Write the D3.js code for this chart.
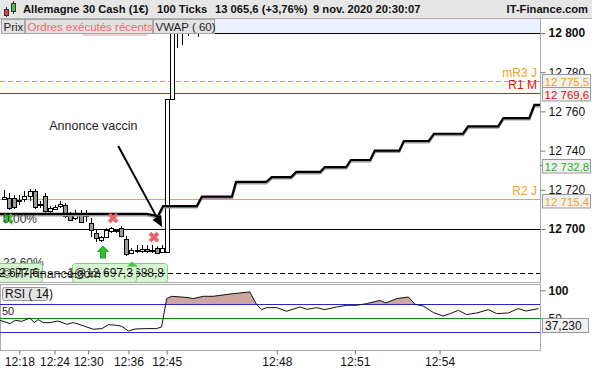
<!DOCTYPE html>
<html><head><meta charset="utf-8">
<script src="https://cdn.jsdelivr.net/npm/d3@7/dist/d3.min.js"></script>
<style>
body{margin:0;background:#fff;}
svg{display:block;font-family:"Liberation Sans",Arial,Helvetica,sans-serif;}
</style></head><body>
<svg id="chart" width="592" height="370"></svg>
<script>
// ---------------- data ----------------
const priceTicks = [12700, 12720, 12740, 12760, 12780, 12800];
const boldPriceTicks = [12700, 12800];
const timeLabels = ["12:18", "12:24", "12:30", "12:36", "12:45", "12:48", "12:51", "12:54"];
const timeIdx = [3, 9.9, 16.5, 24.4, 31.9, 53.5, 68.8, 85.4];

// 100-tick candles (bar index = position)
const candleOpen  = [12715.3,12715.8,12715.8,12714.8,12715.7,12716.8,12719.4,12712.8,12717.0,12709.2,12710.2,12711.7,12712.2,12707.7,12705.6,12707.7,12707.1,12703.1,12698.0,12694.4,12695.9,12699.0,12699.0,12700.5,12694.9,12687.8,12689.3,12688.8,12689.8,12689.3,12690.3,12688.3,12688.3,12766.3,12808.0,12812.0,12814.0,12818.0,12819.0];
const candleHigh  = [12719.9,12718.4,12717.3,12717.3,12719.4,12720.4,12720.4,12714.3,12718.4,12711.7,12712.2,12714.3,12713.3,12708.7,12709.7,12709.7,12709.7,12705.6,12699.5,12696.4,12700.5,12701.0,12700.0,12701.5,12696.4,12690.3,12691.8,12691.8,12691.8,12691.8,12691.2,12691.8,12766.3,12815.0,12818.0,12820.0,12822.0,12824.0,12826.0];
const candleLow   = [12714.8,12709.7,12710.2,12712.2,12713.8,12714.3,12710.2,12710.7,12708.4,12708.2,12709.7,12710.7,12705.6,12704.1,12704.6,12703.1,12703.6,12695.9,12693.4,12693.4,12695.4,12698.0,12698.0,12695.9,12686.2,12687.2,12687.8,12687.8,12687.8,12687.8,12687.2,12687.8,12687.8,12766.3,12792.3,12793.9,12798.5,12806.0,12798.1];
const candleClose = [12716.3,12710.7,12711.2,12714.3,12717.0,12719.4,12711.2,12712.2,12709.2,12710.7,12711.2,12712.8,12706.8,12704.6,12707.7,12703.7,12706.6,12699.5,12695.4,12695.9,12699.5,12700.5,12699.5,12696.4,12687.2,12689.3,12688.8,12689.8,12688.8,12689.0,12687.8,12690.3,12766.3,12812.0,12812.0,12815.0,12818.0,12820.0,12822.0];

// VWAP (60) vertices: bar index / value
const vwapIdx = [-1, 28.0, 30.2, 31.2, 37.8, 38.8, 44.7, 45.5, 51.4, 52.5, 56.3, 57.3, 62.0, 62.9, 67.1, 68.0, 71.8, 72.7, 77.5, 78.4, 83.3, 84.3, 90.0, 91.0, 96.9, 97.9, 103.0, 104.0, 106];
const vwapVal = [12707.7,12707.7,12706.6,12711.7,12711.7,12716.5,12716.5,12724.0,12724.0,12726.5,12726.5,12729.1,12729.1,12731.6,12731.6,12735.2,12735.2,12740.0,12740.0,12744.9,12744.9,12748.6,12748.6,12752.4,12752.4,12756.6,12756.6,12763.3,12763.3];

// RSI (14)
const rsiIdx = [-0.8,1.2,2.2,3.5,5.1,5.9,6.7,7.7,9.0,10.6,12.3,13.6,14.9,17.5,19.2,20.5,22.1,23.1,24.4,25.7,28.0,29.9,30.9,31.9,32.9,34.8,36.1,37.1,39.1,41.0,45.0,48.2,49.5,50.5,51.5,53.5,55.4,58.0,59.4,61.3,62.9,65.2,67.2,69.2,71.1,73.7,74.9,77.0,79.3,80.6,82.2,84.2,86.1,87.5,89.1,90.7,92.7,95.0,96.6,98.9,100.8,102.4,104.8];
const rsiVal = [46.4,40.5,46.4,44.6,50.5,42.3,47.7,42.3,42.3,45.2,39.3,42.3,38.7,30.4,31.6,38.7,37.5,35.7,27.3,30.9,31.6,31.6,34.5,85.2,89.3,88,87,85.2,89.3,89.3,94.1,97,75,65.5,69,69,62.5,70.2,66,69,65.5,70.2,73.2,73.2,76.2,82,77.4,85.2,88,75,72,60.2,54.1,58.4,64.3,56.6,59.5,65.5,58.4,59.5,67.3,63,67.3];
const rsiLevels = [75, 50, 25];
const rsiTicks = [100, 50];
const rsiCurrent = 37.230;

// pivot levels
const levelNames = ["mR3 J", "R1 M", "R2 J"];
const levelVals  = [12775.5, 12769.6, 12715.4];
const lastPrice = 12732.8;
const fibNames = ["0,00%", "23,60%"];
const fibVals = [12700.0, 12677.6];
const topLevel = 12800, topLevelStartIdx = 35.5;

// executed orders
const sellIdx = [21.4, 29.4], sellPrice = [12705.6, 12695.9];
const buyIdx = [19.4], buyPrice = [12691.3];
const buyXIdx = [0.8], buyXPrice = [12705.4];
const execTriIdx = [25.1], execTriPrice = [12683.4];
const execLabels = ["12 677,6", "1@12 697,3", "1@12 688,8"];

// annotation
const noteText = "Annonce vaccin";
const noteTail = [22.4, 12742.3], noteTip = [31.0, 12701.0];

const titleParts = ["Allemagne 30 Cash (1€)", "100 Ticks", "13 065,6 (+3,76%)", "9 nov. 2020 20:30:07"];
const tabs = ["Prix", "Ordres exécutés récents", "VWAP ( 60)"];

// ---------------- scales ----------------
const svg = d3.select("#chart");
const PL = 0, PR = 540, PT = 19, PB = 282;
const x = d3.scaleLinear().domain([0, 105]).range([4, 539.5]);
const y = d3.scaleLinear().domain([12700, 12800]).range([229, 33]);
const yr = d3.scaleLinear().domain([0, 100]).range([346.3, 290.3]);
const fmtP = d => d3.format(",.1f")(d).replace(/,/g, " ").replace(".", ",");
const fmtT = d => d3.format(",")(d).replace(/,/g, " ");
const cr = v => Math.round(v) + 0.5;

const defs = svg.append("defs");
defs.append("clipPath").attr("id", "clipMain").append("rect").attr("x", PL).attr("y", 33).attr("width", PR - PL).attr("height", PB - 33);
defs.append("clipPath").attr("id", "clipPlot").append("rect").attr("x", PL).attr("y", PT).attr("width", PR - PL).attr("height", PB - PT);
defs.append("clipPath").attr("id", "clipRsi").append("rect").attr("x", 0).attr("y", 285).attr("width", 540).attr("height", 65);
defs.append("clipPath").attr("id", "clipRsiHigh").append("rect").attr("x", 0).attr("y", 285).attr("width", 540).attr("height", yr(75) - 285);

// ---------------- main panel ----------------
const main = svg.append("g").attr("clip-path", "url(#clipPlot)");
main.append("rect").attr("x", PL).attr("y", PT).attr("width", PR - PL).attr("height", 14).attr("fill", "#e9effd");
main.append("rect").attr("x", 82).attr("y", 27).attr("width", 66).attr("height", 9).attr("rx", 3).attr("fill", "#f8c9c9");

const levelStyle = {"mR3 J": {c: "#f5a020", dash: "5,3", w: 1.2}, "R1 M": {c: "#e01010", dash: null, w: 1}, "R2 J": {c: "#f5a224", dash: null, w: 1}};
levelNames.forEach((n, k) => {
  const s = levelStyle[n];
  main.append("line").attr("x1", PL).attr("x2", PR).attr("y1", cr(y(levelVals[k]))).attr("y2", cr(y(levelVals[k])))
    .attr("stroke", s.c).attr("stroke-width", s.w).attr("stroke-dasharray", s.dash);
});
main.append("line").attr("x1", PL).attr("x2", PR).attr("y1", cr(y(fibVals[0]))).attr("y2", cr(y(fibVals[0]))).attr("stroke", "#000");
main.append("line").attr("x1", x(topLevelStartIdx)).attr("x2", PR).attr("y1", cr(y(topLevel))).attr("y2", cr(y(topLevel))).attr("stroke", "#000");

// candles
const candles = candleOpen.map((o, i) => ({i, o, h: candleHigh[i], l: candleLow[i], c: candleClose[i]}));
const cg = main.append("g").attr("clip-path", "url(#clipMain)");
const cgs = cg.selectAll("g.c").data(candles).join("g").attr("class", "c");
cgs.append("line").attr("x1", d => Math.round(x(d.i)) + 0.5).attr("x2", d => Math.round(x(d.i)) + 0.5)
  .attr("y1", d => y(d.h)).attr("y2", d => y(d.l)).attr("stroke", "#000");
cgs.append("rect").attr("x", d => Math.round(x(d.i)) - 1.5).attr("width", 4)
  .attr("y", d => Math.round(y(Math.max(d.o, d.c))) + 0.5)
  .attr("height", d => Math.max(0, Math.round(Math.abs(y(d.o) - y(d.c)))))
  .attr("fill", d => d.c >= d.o ? "#fff" : "#9a9a9a").attr("stroke", "#000");

// VWAP
const vw = vwapIdx.map((v, k) => [v, vwapVal[k]]);
const vline = d3.line().x(d => x(d[0])).y(d => y(d[1]));
main.append("path").attr("d", vline(vw)).attr("fill", "none").attr("stroke", "#9a9a9a").attr("stroke-width", 2.4).attr("transform", "translate(0,1.3)");
main.append("path").attr("d", vline(vw)).attr("fill", "none").attr("stroke", "#000").attr("stroke-width", 2.2);

// markers
const xPath = "M-4,-4L4,4M4,-4L-4,4";
sellIdx.forEach((v, k) => main.append("path").attr("d", xPath).attr("transform", `translate(${x(v)},${y(sellPrice[k])})`)
  .attr("stroke", "#ec6464").attr("stroke-width", 3.8).attr("fill", "none"));
buyXIdx.forEach((v, k) => main.append("path").attr("d", xPath).attr("transform", `translate(${x(v)},${y(buyXPrice[k])})`)
  .attr("stroke", "#35c035").attr("stroke-width", 3.6).attr("fill", "none"));
buyIdx.forEach((v, k) => main.append("path").attr("d", "M0,0L5.5,5.5L2.5,5.5L2.5,12L-2.5,12L-2.5,5.5L-5.5,5.5Z")
  .attr("transform", `translate(${x(v)},${y(buyPrice[k])})`).attr("fill", "#2fbf2f").attr("stroke", "#168a16").attr("stroke-width", 0.8));

// fib labels
fibNames.forEach((n, k) => main.append("text").attr("x", 3).attr("y", y(fibVals[k]) - 6).attr("font-size", 12).attr("fill", "#333").text(n));

// execution label boxes
const eb = main.append("g");
function execBox(x0, x1, txt) {
  eb.append("rect").attr("x", x0 + 0.5).attr("y", 263.5).attr("width", x1 - x0).attr("height", 19).attr("rx", 3)
    .attr("fill", "#d7f5d0").attr("stroke", "#7cd57c");
  eb.append("text").attr("x", x1 - 3).attr("y", 277).attr("text-anchor", "end").attr("font-size", 12).attr("fill", "#222").text(txt);
}
execBox(-5, 42, execLabels[0]);
execBox(105, 167, execLabels[2]);
execBox(72, 136, execLabels[1]);
execTriIdx.forEach((v, k) => main.append("path").attr("d", "M0,0L5,5L-5,5Z").attr("transform", `translate(${x(v)},${y(execTriPrice[k])})`)
  .attr("fill", "#3cc63c"));
main.append("text").attr("x", 2).attr("y", 278).attr("font-size", 12.5).attr("fill", "#333").text("© IT-Finance.com");
main.append("line").attr("x1", PL).attr("x2", PR).attr("y1", cr(y(fibVals[1]))).attr("y2", cr(y(fibVals[1])))
  .attr("stroke", "#000").attr("stroke-dasharray", "5,3");

// annotation
main.append("text").attr("x", x(noteTail[0]) - 69).attr("y", y(noteTail[1]) - 16).attr("font-size", 12.5).attr("fill", "#222").text(noteText);
{
  const tx = x(noteTail[0]), ty = y(noteTail[1]), hx = x(noteTip[0]), hy = y(noteTip[1]);
  const L = Math.hypot(hx - tx, hy - ty), ux = (hx - tx) / L, uy = (hy - ty) / L;
  const bx = hx - ux * 11, by = hy - uy * 11;
  main.append("line").attr("x1", tx).attr("y1", ty).attr("x2", bx).attr("y2", by).attr("stroke", "#000").attr("stroke-width", 2);
  main.append("path").attr("d", `M${hx},${hy}L${bx - uy * 5},${by + ux * 5}L${bx + uy * 5},${by - ux * 5}Z`).attr("fill", "#000");
}

// level names
levelNames.forEach((n, k) => main.append("text").attr("x", 537).attr("y", y(levelVals[k]) - 4).attr("text-anchor", "end")
  .attr("font-size", 12).attr("fill", levelStyle[n].c).text(n));

// tabs
const tabX = [1, 25, 153], tabW = [24, 128, 62];
tabs.forEach((t, k) => {
  svg.append("rect").attr("x", tabX[k] + 0.5).attr("y", 19.5).attr("width", tabW[k] - 1).attr("height", 14).attr("fill", "#e2e2e2").attr("stroke", "#a8a8a8");
  svg.append("text").attr("x", tabX[k] + 2.5).attr("y", 30.5).attr("font-size", 11.5).attr("fill", k === 1 ? "#f06a6a" : "#222").text(t);
});

// frame
svg.append("line").attr("x1", 540.5).attr("x2", 540.5).attr("y1", PT).attr("y2", PB).attr("stroke", "#aaa");
svg.append("line").attr("x1", 0).attr("x2", 541).attr("y1", PB + 0.5).attr("y2", PB + 0.5).attr("stroke", "#aaa");

// right price axis
const ax = svg.append("g").attr("transform", "translate(540.5,0)")
  .call(d3.axisRight(y).tickValues(priceTicks).tickSize(5).tickPadding(3).tickFormat(fmtT));
ax.select(".domain").remove();
ax.selectAll("line").attr("stroke", "#777");
ax.selectAll("text").attr("font-size", 12).attr("fill", "#111").attr("font-family", null)
  .attr("font-weight", d => boldPriceTicks.includes(d) ? "bold" : "normal");

function valueBox(v, color, dy) {
  const yy = Math.round(y(v) + (dy || 0));
  svg.append("rect").attr("x", 542.5).attr("y", yy - 6.5).attr("width", 48).attr("height", 13.5).attr("fill", "#f1f1f1").attr("stroke", "#999");
  svg.append("text").attr("x", 544.5).attr("y", yy + 4.5).attr("font-size", 11.5).attr("fill", color).text(fmtP(v));
}
valueBox(levelVals[0], levelStyle["mR3 J"].c, -0.5);
valueBox(levelVals[1], levelStyle["R1 M"].c, 1);
valueBox(levelVals[2], levelStyle["R2 J"].c, 2);
svg.append("line").attr("x1", 540).attr("x2", 545).attr("y1", cr(y(lastPrice))).attr("y2", cr(y(lastPrice))).attr("stroke", "#22b022");
valueBox(lastPrice, "#1fb51f", 1);

// ---------------- RSI panel ----------------
const rg = svg.append("g");
rg.append("rect").attr("x", 0.5).attr("y", 284.5).attr("width", 540).attr("height", 66).attr("fill", "#fff").attr("stroke", "#aaa");
const rin = rg.append("g").attr("clip-path", "url(#clipRsi)");
const rs = rsiIdx.map((v, k) => [v, rsiVal[k]]);
rin.append("path").attr("clip-path", "url(#clipRsiHigh)")
  .attr("d", d3.area().x(d => x(d[0])).y0(yr(75)).y1(d => yr(d[1]))(rs)).attr("fill", "#cda6a2");
const lvlColor = {75: "#2626cc", 50: "#0a880a", 25: "#2626cc"};
rsiLevels.forEach(l => rin.append("line").attr("x1", 0).attr("x2", 540).attr("y1", cr(yr(l))).attr("y2", cr(yr(l))).attr("stroke", lvlColor[l]));
rin.append("path").attr("d", d3.line().x(d => x(d[0])).y(d => yr(d[1]))(rs)).attr("fill", "none").attr("stroke", "#111").attr("stroke-width", 1);
rg.append("text").attr("x", 2).attr("y", 315).attr("font-size", 11).attr("fill", "#222").text("50");
rg.append("rect").attr("x", 2.5).attr("y", 287.5).attr("width", 45).attr("height", 13).attr("rx", 2).attr("fill", "#e4e4e4").attr("stroke", "#999");
rg.append("text").attr("x", 5).attr("y", 298).attr("font-size", 12).attr("fill", "#111").text("RSI ( 14)");

const rax = svg.append("g").attr("transform", "translate(540.5,0)")
  .call(d3.axisRight(yr).tickValues(rsiTicks).tickSize(5).tickPadding(3));
rax.select(".domain").remove();
rax.selectAll("line").attr("stroke", "#777");
rax.selectAll("text").attr("font-size", 12).attr("fill", "#111").attr("font-family", null).attr("font-weight", d => d === 100 ? "bold" : "normal");
{
  const yy = Math.round(yr(rsiCurrent));
  svg.append("rect").attr("x", 542.5).attr("y", yy - 6.5).attr("width", 46).attr("height", 14).attr("fill", "#f1f1f1").attr("stroke", "#999");
  svg.append("text").attr("x", 545).attr("y", yy + 4.5).attr("font-size", 12).attr("fill", "#111").text(d3.format(".3f")(rsiCurrent).replace(".", ","));
}

// time axis
const tax = svg.append("g").attr("transform", "translate(0,350.5)")
  .call(d3.axisBottom(x).tickValues(timeIdx).tickSize(4).tickPadding(3).tickFormat((d, k) => timeLabels[k]));
tax.select(".domain").remove();
tax.selectAll("line").attr("stroke", "#777");
tax.selectAll("text").attr("font-size", 12).attr("fill", "#111").attr("font-family", null);

// ---------------- title bar ----------------
svg.append("rect").attr("x", 0).attr("y", 0).attr("width", 592).attr("height", 18).attr("fill", "#e6e6e6");
svg.append("line").attr("x1", 0).attr("x2", 592).attr("y1", 18.5).attr("y2", 18.5).attr("stroke", "#b0b0b0");
svg.append("line").attr("x1", 6.5).attr("x2", 6.5).attr("y1", 7).attr("y2", 17).attr("stroke", "#333");
svg.append("rect").attr("x", 4.5).attr("y", 9.5).attr("width", 4).attr("height", 6).attr("fill", "#e84040").attr("stroke", "#333");
svg.append("line").attr("x1", 13.5).attr("x2", 13.5).attr("y1", 1).attr("y2", 14).attr("stroke", "#333");
svg.append("rect").attr("x", 11.5).attr("y", 3.5).attr("width", 4).attr("height", 8).attr("fill", "#3cc83c").attr("stroke", "#333");
const titleX = [23, 157, 215, 313];
titleParts.forEach((t, k) => svg.append("text").attr("x", titleX[k]).attr("y", 13).attr("font-size", 11.2).attr("font-weight", "bold").attr("fill", "#111").text(t));
svg.append("text").attr("x", 588).attr("y", 13).attr("text-anchor", "end").attr("font-size", 11.2).attr("font-weight", "bold").attr("fill", "#111").text("IT-Finance.com");
</script>
</body></html>
